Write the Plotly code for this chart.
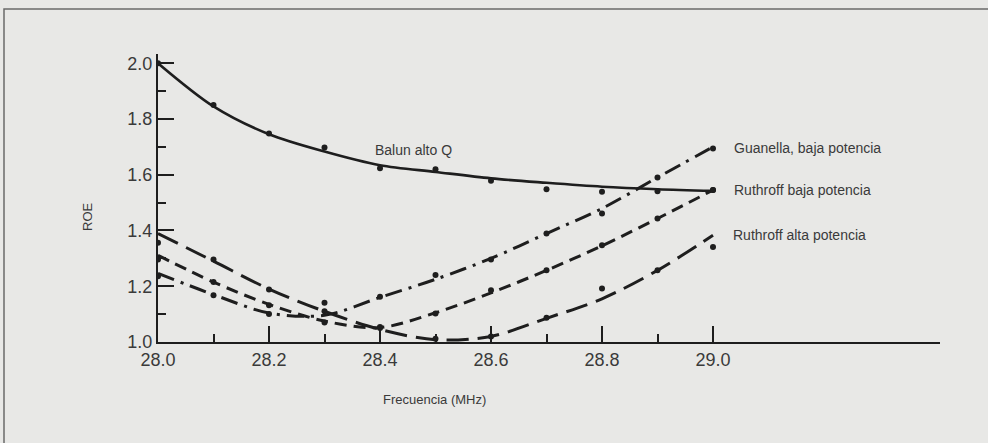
import plotly.graph_objects as go

freq = [28.0, 28.1, 28.2, 28.3, 28.4, 28.5, 28.6, 28.7, 28.8, 28.9, 29.0]

balun_pts = [2.0, 1.85, 1.748, 1.698, 1.623, 1.62, 1.578, 1.548, 1.539, 1.541, 1.545]
balun_curve = [2.0, 1.845, 1.745, 1.683, 1.634, 1.61, 1.587, 1.571, 1.557, 1.548, 1.542]

guanella_pts = [1.236, 1.168, 1.10, 1.141, 1.162, 1.24, 1.296, 1.389, 1.461, 1.59, 1.694]
guanella_curve = [1.246, 1.17, 1.104, 1.096, 1.16, 1.225, 1.30, 1.389, 1.479, 1.59, 1.70]

rbaja_pts = [1.296, 1.215, 1.132, 1.07, 1.054, 1.102, 1.186, 1.257, 1.347, 1.443, 1.545]
rbaja_curve = [1.311, 1.215, 1.135, 1.075, 1.052, 1.105, 1.176, 1.257, 1.345, 1.443, 1.545]

ralta_pts = [1.356, 1.296, 1.188, 1.11, 1.05, 1.012, 1.02, 1.087, 1.192, 1.257, 1.341]
ralta_curve = [1.389, 1.29, 1.19, 1.11, 1.045, 1.008, 1.02, 1.085, 1.155, 1.257, 1.383]

x_ticks = [28.0, 28.2, 28.4, 28.6, 28.8, 29.0]
x_minor = [28.1, 28.3, 28.5, 28.7, 28.9]
y_ticks = [1.0, 1.2, 1.4, 1.6, 1.8, 2.0]
y_minor = [1.1, 1.3, 1.5, 1.7, 1.9]

labels = ["Balun alto Q", "Guanella, baja potencia", "Ruthroff baja potencia", "Ruthroff alta potencia"]

INK = "#1e1e1e"
TXT = "#3a3a3a"
BG = "#e8e8e6"
FONT = "Liberation Sans, Arial, sans-serif"

fig = go.Figure()

curves = [
    (balun_curve, "solid", 2.6),
    (guanella_curve, "17px,7px,3px,7px", 3),
    (rbaja_curve, "12px,7px", 3),
    (ralta_curve, "22px,9px", 3),
]
for vals, dash, w in curves:
    fig.add_trace(go.Scatter(x=freq, y=vals, mode="lines",
                             line=dict(color=INK, width=w, dash=dash, shape="spline", smoothing=0.9),
                             showlegend=False, hoverinfo="skip"))

for pts in [balun_pts, guanella_pts, rbaja_pts, ralta_pts]:
    fig.add_trace(go.Scatter(x=freq, y=pts, mode="markers",
                             marker=dict(color=INK, size=6),
                             showlegend=False))

ann = [
    (labels[0], 28.461, 1.6886, "center"),
    (labels[1], 29.035, 1.6955, "left"),
    (labels[2], 29.035, 1.545, "left"),
    (labels[3], 29.033, 1.383, "left"),
]
for t, x, y, xa in ann:
    fig.add_annotation(x=x, y=y, xref="x", yref="y", text=t, showarrow=False,
                       xanchor=xa, yanchor="middle", font=dict(family=FONT, size=14, color=TXT))

# axis titles
fig.add_annotation(x=(434 - 158) / 782, y=(342 - 399) / 288, xref="paper", yref="paper",
                   text="Frecuencia (MHz)", showarrow=False, xanchor="center", yanchor="middle",
                   font=dict(family=FONT, size=13, color=TXT))
fig.add_annotation(x=(87 - 158) / 782, y=(342 - 217) / 288, xref="paper", yref="paper",
                   text="ROE", showarrow=False, textangle=-90, xanchor="center", yanchor="middle",
                   font=dict(family=FONT, size=13, color=TXT))

# outer frame
fig.add_shape(type="rect", xref="paper", yref="paper",
              x0=(4 - 158) / 782, x1=(1000 - 158) / 782,
              y0=(342 - 460) / 288, y1=(342 - 9) / 288,
              line=dict(color="#6a6a6a", width=1.5), layer="below")

fig.update_layout(
    width=988, height=443,
    margin=dict(l=158, r=48, t=54, b=101),
    paper_bgcolor=BG, plot_bgcolor=BG,
    font=dict(family=FONT, color=TXT),
    xaxis=dict(range=[28.0, 29.409], showgrid=False, zeroline=False,
               showline=True, linecolor=INK, linewidth=2,
               tickmode="array", tickvals=x_ticks, ticktext=[f"{v:.1f}" for v in x_ticks],
               ticks="inside", ticklen=16, tickwidth=2, tickcolor=INK,
               tickfont=dict(family=FONT, size=18, color=TXT),
               minor=dict(tickmode="array", tickvals=x_minor, ticks="inside", ticklen=8,
                          tickwidth=2, tickcolor=INK)),
    yaxis=dict(range=[1.0, 2.033], showgrid=False, zeroline=False,
               showline=True, linecolor=INK, linewidth=2,
               tickmode="array", tickvals=y_ticks, ticktext=[f"{v:.1f}" for v in y_ticks],
               ticks="inside", ticklen=16, tickwidth=2, tickcolor=INK,
               tickfont=dict(family=FONT, size=18, color=TXT),
               minor=dict(tickmode="array", tickvals=y_minor, ticks="inside", ticklen=8,
                          tickwidth=2, tickcolor=INK)),
)

fig.write_html("out.html")
